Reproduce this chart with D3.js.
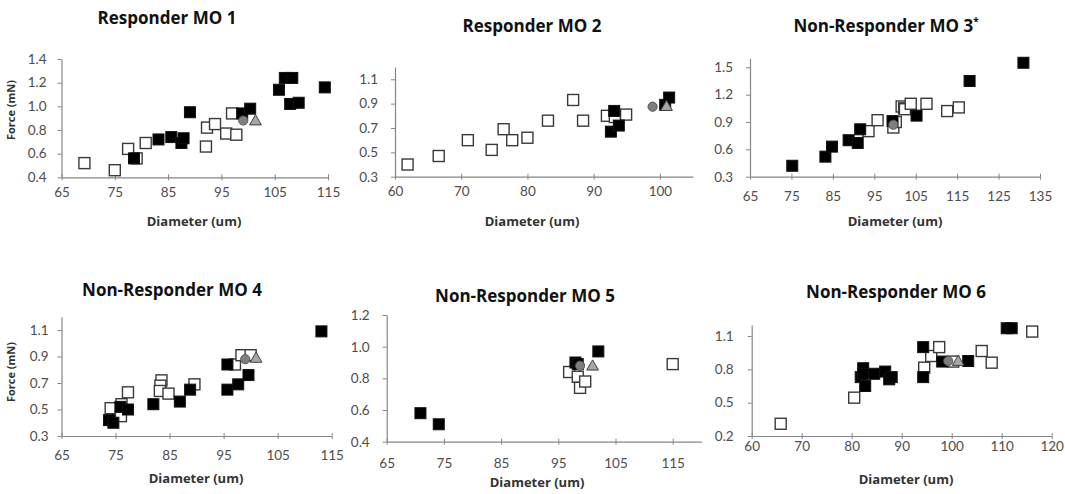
<!DOCTYPE html>
<html>
<head>
<meta charset="utf-8">
<script src="https://cdn.jsdelivr.net/npm/d3@7"></script>
<style>
  body { margin: 0; background: #fff; }
  svg { display: block; }
  text { font-family: Lato, "Open Sans", sans-serif; }
  .heading { font-family: "Open Sans", Lato, sans-serif; }
</style>
</head>
<body>
<svg id="chart" width="1065" height="494"></svg>
<script>
// ---- data: [diameter (um), force (mN)] per marker group ----
const mo1Open = [[69.3,0.52],[75.0,0.46],[77.5,0.64],[79.1,0.56],[80.8,0.69],[92.1,0.66],[92.3,0.82],[93.8,0.85],[95.9,0.77],[97.0,0.94],[97.8,0.76]];
const mo1Filled = [[78.6,0.56],[83.2,0.72],[85.6,0.74],[87.5,0.69],[87.9,0.73],[89.1,0.95],[98.9,0.94],[100.4,0.98],[105.8,1.14],[106.9,1.24],[108.3,1.24],[107.9,1.02],[109.5,1.03],[114.4,1.16]];
const mo1Circle = [[99.1,0.88]];
const mo1Triangle = [[101.4,0.88]];

const mo2Open = [[61.9,0.40],[66.6,0.47],[71.0,0.60],[74.6,0.52],[76.4,0.69],[77.7,0.60],[80.0,0.62],[83.1,0.76],[86.9,0.93],[88.4,0.76],[92.0,0.80],[93.2,0.79],[94.9,0.81]];
const mo2Filled = [[92.6,0.67],[93.1,0.84],[93.8,0.72],[100.8,0.89],[101.4,0.95]];
const mo2Circle = [[98.9,0.875]];
const mo2Triangle = [[101.0,0.88]];

const mo3Open = [[93.6,0.80],[95.8,0.92],[99.6,0.84],[100.2,0.90],[101.6,1.07],[102.2,1.05],[102.4,1.04],[103.8,1.10],[107.6,1.10],[112.6,1.02],[115.4,1.06]];
const mo3Filled = [[75.2,0.42],[83.2,0.52],[84.8,0.63],[88.8,0.70],[91.6,0.82],[91.0,0.67],[99.4,0.91],[105.2,0.97],[118.0,1.35],[131.0,1.55]];
const mo3Circle = [[99.6,0.87]];
const mo3Triangle = [];

const mo4Open = [[74.1,0.51],[76.1,0.54],[76.0,0.45],[77.3,0.63],[83.5,0.72],[83.3,0.68],[83.2,0.64],[84.8,0.62],[89.6,0.69],[97.1,0.84],[98.3,0.91],[100.0,0.91]];
const mo4Filled = [[73.8,0.42],[74.6,0.40],[75.9,0.52],[77.3,0.50],[82.0,0.54],[86.9,0.56],[88.8,0.65],[95.7,0.84],[95.7,0.65],[97.7,0.69],[99.6,0.76],[113.1,1.09]];
const mo4Circle = [[99.0,0.88]];
const mo4Triangle = [[101.0,0.89]];

const mo5Open = [[96.9,0.84],[98.4,0.81],[98.8,0.74],[99.7,0.78],[115.0,0.89]];
const mo5Filled = [[70.9,0.58],[74.1,0.51],[98.0,0.90],[98.4,0.89],[102.0,0.97]];
const mo5Circle = [[98.8,0.88]];
const mo5Triangle = [[101.0,0.88]];

const mo6Open = [[65.8,0.31],[80.5,0.545],[94.5,0.815],[95.9,0.92],[97.5,1.00],[100.3,0.87],[106.0,0.965],[108.0,0.86],[116.1,1.14]];
const mo6Filled = [[82.3,0.81],[81.8,0.73],[82.7,0.65],[82.3,0.76],[84.5,0.76],[86.7,0.78],[87.5,0.71],[88.0,0.73],[94.3,1.00],[94.3,0.73],[98.1,0.87],[103.3,0.875],[111.0,1.17],[112.0,1.17]];
const mo6Circle = [[99.3,0.875]];
const mo6Triangle = [[101.3,0.875]];

// ---- titles and tick labels ----
const panelTitles = ["Responder MO 1","Responder MO 2","Non-Responder MO 3","Non-Responder MO 4","Non-Responder MO 5","Non-Responder MO 6"];
const titleMarks = ["","","*","","",""];
const xTitle = "Diameter (um)";
const yTitle = "Force (mN)";

const xTicks1 = [65,75,85,95,105,115];
const xTicks2 = [60,70,80,90,100];
const xTicks3 = [65,75,85,95,105,115,125,135];
const xTicks6 = [60,70,80,90,100,110,120];
const yTicks1 = [0.4,0.6,0.8,1.0,1.2,1.4];
const yTicks2 = [0.3,0.5,0.7,0.9,1.1];
const yTicks3 = [0.3,0.6,0.9,1.2,1.5];
const yTicks5 = [0.4,0.6,0.8,1.0,1.2];
const yTicks6 = [0.2,0.5,0.8,1.1];

// ---- panel layout ----
const panels = [
  { open: mo1Open, filled: mo1Filled, circle: mo1Circle, triangle: mo1Triangle,
    xDomain: [65,115], yDomain: [0.4,1.4], xTicks: xTicks1, yTicks: yTicks1,
    box: { l: 61.5, r: 328, t: 59, b: 177.3 }, title: [167, 24], xLab: [194, 226], yLab: [15, 110],
    xGap: 14.5, yGap: 15 },
  { open: mo2Open, filled: mo2Filled, circle: mo2Circle, triangle: mo2Triangle,
    xDomain: [60,105], yDomain: [0.3,1.2], xTicks: xTicks2, yTicks: yTicks2,
    box: { l: 395, r: 693, t: 67.1, b: 176.7 }, title: [532, 32], xLab: [532, 226], yLab: null,
    xGap: 15, yGap: 17 },
  { open: mo3Open, filled: mo3Filled, circle: mo3Circle, triangle: mo3Triangle,
    xDomain: [65,135], yDomain: [0.3,1.6], xTicks: xTicks3, yTicks: yTicks3,
    box: { l: 750, r: 1040, t: 58.2, b: 176.7 }, title: [886, 32], xLab: [895, 226], yLab: null,
    xGap: 20, yGap: 17 },
  { open: mo4Open, filled: mo4Filled, circle: mo4Circle, triangle: mo4Triangle,
    xDomain: [65,115], yDomain: [0.3,1.2], xTicks: xTicks1, yTicks: yTicks2,
    box: { l: 61.5, r: 331.7, t: 316.8, b: 436 }, title: [172, 296], xLab: [196, 483], yLab: [15, 372],
    xGap: 19.7, yGap: 13 },
  { open: mo5Open, filled: mo5Filled, circle: mo5Circle, triangle: mo5Triangle,
    xDomain: [65,120], yDomain: [0.4,1.2], xTicks: xTicks1, yTicks: yTicks5,
    box: { l: 386.7, r: 701.3, t: 315, b: 441.7 }, title: [525, 302], xLab: [537, 487], yLab: null,
    xGap: 21.7, yGap: 17 },
  { open: mo6Open, filled: mo6Filled, circle: mo6Circle, triangle: mo6Triangle,
    xDomain: [60,120], yDomain: [0.2,1.2], xTicks: xTicks6, yTicks: yTicks6,
    box: { l: 751.7, r: 1051.7, t: 324.9, b: 436 }, title: [896, 298], xLab: [906, 484], yLab: null,
    xGap: 10.7, yGap: 18 }
];

const svg = d3.select("#chart");
const axisColor = "#868686";
const tickText = "#4d4d4d";
const sq = 11;

panels.forEach((p, i) => {
  const g = svg.append("g");
  const x = d3.scaleLinear().domain(p.xDomain).range([p.box.l, p.box.r]);
  const y = d3.scaleLinear().domain(p.yDomain).range([p.box.b, p.box.t]);

  // x axis
  const xa = g.append("g").attr("transform", `translate(0,${p.box.b})`)
    .call(d3.axisBottom(x).tickValues(p.xTicks).tickSizeOuter(0).tickSizeInner(3).tickFormat(d3.format("d")));
  xa.select(".domain").attr("stroke", axisColor).attr("stroke-width", 1.2);
  xa.selectAll(".tick line").attr("stroke", axisColor).attr("y1", -3).attr("y2", 3);
  xa.selectAll(".tick text").attr("y", p.xGap).attr("dy", "0.35em")
    .attr("fill", tickText).style("font-size", "13.5px");

  // y axis
  const ya = g.append("g").attr("transform", `translate(${p.box.l},0)`)
    .call(d3.axisLeft(y).tickValues(p.yTicks).tickSizeOuter(0).tickSizeInner(4).tickFormat(d3.format(".1f")));
  ya.select(".domain").attr("stroke", axisColor).attr("stroke-width", 1.2);
  ya.selectAll(".tick line").attr("stroke", axisColor);
  ya.selectAll(".tick text").attr("x", -p.yGap).attr("fill", tickText).style("font-size", "13.5px");

  // markers: open squares, filled squares, circle, triangle
  g.append("g").selectAll("rect").data(p.open).join("rect")
    .attr("x", d => x(d[0]) - sq / 2).attr("y", d => y(d[1]) - sq / 2)
    .attr("width", sq).attr("height", sq)
    .attr("fill", "#fff").attr("stroke", "#3a3a3a").attr("stroke-width", 1.4);
  g.append("g").selectAll("rect").data(p.filled).join("rect")
    .attr("x", d => x(d[0]) - sq / 2).attr("y", d => y(d[1]) - sq / 2)
    .attr("width", sq).attr("height", sq)
    .attr("fill", "#000").attr("stroke", "#111").attr("stroke-width", 1);
  g.append("g").selectAll("circle").data(p.circle).join("circle")
    .attr("cx", d => x(d[0])).attr("cy", d => y(d[1])).attr("r", 4.6)
    .attr("fill", "#7f7f7f").attr("stroke", "#555").attr("stroke-width", 1);
  const tri = d3.symbol().type(d3.symbolTriangle).size(60);
  g.append("g").selectAll("path").data(p.triangle).join("path")
    .attr("transform", d => `translate(${x(d[0])},${y(d[1]) + 1})`).attr("d", tri)
    .attr("fill", "#a6a6a6").attr("stroke", "#404040").attr("stroke-width", 1);

  // titles
  const t = g.append("text").attr("class", "heading").attr("x", p.title[0]).attr("y", p.title[1])
    .attr("text-anchor", "middle").attr("font-weight", 700).style("font-size", "17px").attr("fill", "#111")
    .text(panelTitles[i]);
  if (titleMarks[i]) {
    t.append("tspan").attr("dy", -7).style("font-size", "10px").text(titleMarks[i]);
  }
  g.append("text").attr("class", "heading").attr("x", p.xLab[0]).attr("y", p.xLab[1])
    .attr("text-anchor", "middle").attr("font-weight", 700).style("font-size", "13px").attr("fill", "#333")
    .text(xTitle);
  if (p.yLab) {
    g.append("text").attr("class", "heading").attr("transform", `translate(${p.yLab[0]},${p.yLab[1]}) rotate(-90)`)
      .attr("text-anchor", "middle").attr("font-weight", 700).style("font-size", "11px").attr("fill", "#333")
      .text(yTitle);
  }
});
</script>
</body>
</html>
